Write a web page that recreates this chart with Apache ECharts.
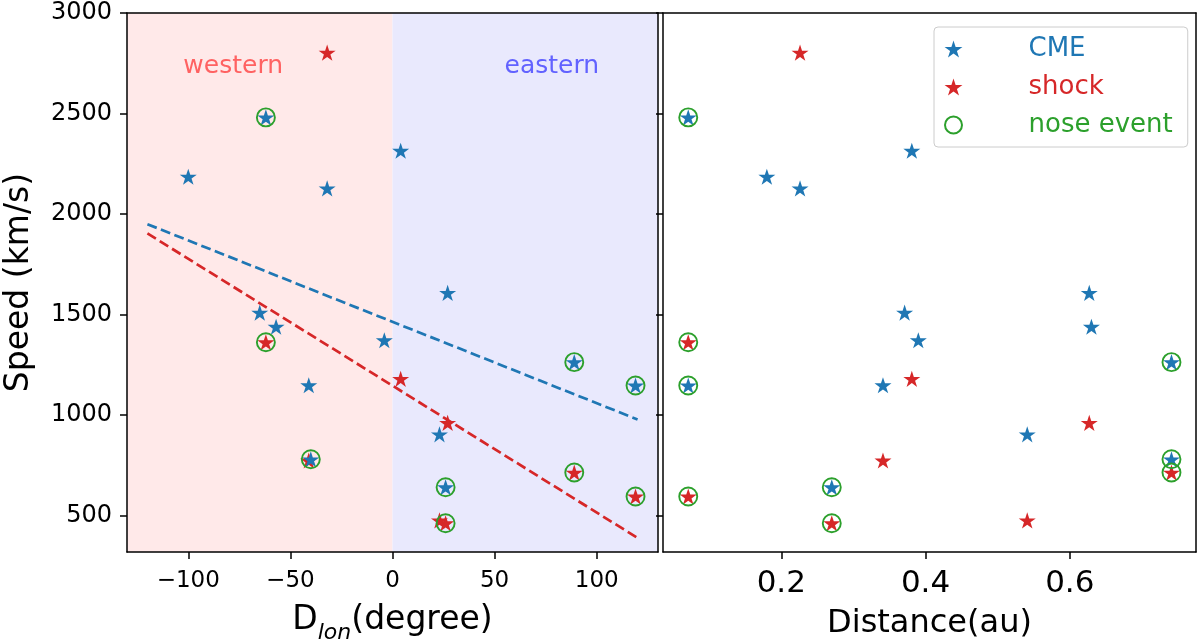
<!DOCTYPE html>
<html>
<head>
<meta charset="utf-8">
<script src="https://cdn.jsdelivr.net/npm/echarts@6/dist/echarts.min.js"></script>
<style>html,body{margin:0;padding:0;background:#fff}#c{width:1200px;height:643px}</style>
</head>
<body>
<div id="c"></div>
<script>
// ---- data ----
const cmeDlon  = [-100, -62, -32, 4, 27, -65, -57, -4, -41, -40, 23, 26, 89, 119];
const cmeSpeed = [2186, 2481, 2128, 2315, 1608, 1510, 1440, 1373, 1149, 781, 905, 642, 1264, 1148];
const cmeDist  = [0.180, 0.071, 0.226, 0.381, 0.627, 0.371, 0.630, 0.390, 0.341, 0.741, 0.541, 0.270, 0.741, 0.071];
const cmeNose  = [0, 1, 0, 0, 0, 0, 0, 0, 0, 1, 0, 1, 1, 1];

const shockDlon  = [-32, -62, -41, 4, 27, 89, 119, 26, 23];
const shockSpeed = [2803, 1363, 775, 1181, 962, 715, 596, 463, 477];
const shockDist  = [0.226, 0.071, 0.341, 0.381, 0.627, 0.741, 0.071, 0.270, 0.541];
const shockNose  = [0, 1, 0, 0, 0, 1, 1, 1, 0];

const fitX     = [-120, 120];
const fitCME   = [1950, 979];
const fitShock = [1904, 390];

const regionNames = ['western', 'eastern'];
const regionX     = [-78, 78];
const regionY     = [2736, 2736];
const regionSpans = [[-130, 0], [0, 130]];

const speedTicks = [500, 1000, 1500, 2000, 2500, 3000];
const dlonTicks  = [-100, -50, 0, 50, 100];
const distTicks  = [0.2, 0.4, 0.6];

// ---- styling ----
const BLUE = '#1f77b4', RED = '#d62728', GREEN = '#2ca02c';
const FONT = 'DejaVu Sans';
const starPath = (() => {
  const pts = [];
  for (let i = 0; i < 10; i++) {
    const r = i % 2 === 0 ? 1 : 0.381966;
    const a = -Math.PI / 2 + i * Math.PI / 5;
    pts.push((r * Math.cos(a)).toFixed(4) + ' ' + (r * Math.sin(a)).toFixed(4));
  }
  return 'path://M' + pts.join(' L') + ' Z';
})();

const zip = (a, b) => a.map((v, i) => [v, b[i]]);
const pick = (a, b, f) => a.map((v, i) => [v, b[i], f[i]]).filter(d => d[2]).map(d => [d[0], d[1]]);

const lineBlack = {show: true, onZero: false, lineStyle: {color: '#000', width: 1.5}};
const tickOut = (vals) => ({show: true, length: 7, inside: false, lineStyle: {color: '#000', width: 1.5}, customValues: vals});
const frameAxis = (gridIndex, position, min, max) => ({
  type: 'value', gridIndex, position, z: 10, min, max,
  axisLine: lineBlack, axisTick: {show: false}, axisLabel: {show: false}, splitLine: {show: false}
});

const minus = v => String(v).replace('-', '\u2212');
const plain = v => String(v);

const starStyle = (c) => ({color: c, opacity: 1});
const noseStyle = {color: 'rgba(0,0,0,0)', borderColor: GREEN, borderWidth: 1.9, opacity: 1};

const option = {
  animation: false,
  backgroundColor: '#fff',
  textStyle: {fontFamily: FONT},
  grid: [
    {left: 127, top: 13, width: 531, height: 539, containLabel: false, outerBoundsMode: 'none'},
    {left: 663, top: 13, width: 533, height: 539, containLabel: false, outerBoundsMode: 'none'}
  ],
  xAxis: [
    {
      type: 'value', gridIndex: 0, min: -130, max: 130, z: 10,
      axisLine: lineBlack, axisTick: tickOut(dlonTicks),
      axisLabel: {customValues: dlonTicks, formatter: minus, fontSize: 23, color: '#000', fontFamily: FONT, margin: 18},
      splitLine: {show: false},
      name: '{a|D}{s|lon}{a|(degree)}', nameLocation: 'middle', nameGap: 48,
      nameTextStyle: {
        fontFamily: FONT, color: '#000', lineHeight: 40,
        rich: {
          a: {fontSize: 33, fontFamily: FONT, color: '#000', verticalAlign: 'middle', lineHeight: 40},
          s: {fontSize: 22, fontFamily: FONT, fontStyle: 'italic', color: '#000', verticalAlign: 'bottom', lineHeight: 40, padding: [0, 0, -4, 0]}
        }
      }
    },
    frameAxis(0, 'top', -130, 130),
    {
      type: 'value', gridIndex: 1, min: 0.036, max: 0.775, z: 10,
      axisLine: lineBlack, axisTick: tickOut(distTicks),
      axisLabel: {customValues: distTicks, formatter: plain, fontSize: 31, color: '#000', fontFamily: FONT, margin: 16},
      splitLine: {show: false},
      name: 'Distance(au)', nameLocation: 'middle', nameGap: 52,
      nameTextStyle: {fontSize: 32, fontFamily: FONT, color: '#000', lineHeight: 40}
    },
    frameAxis(1, 'top', 0.036, 0.775)
  ],
  yAxis: [
    {
      type: 'value', gridIndex: 0, min: 320, max: 3000, z: 10,
      axisLine: lineBlack, axisTick: tickOut(speedTicks),
      axisLabel: {customValues: speedTicks, formatter: plain, fontSize: 24, color: '#000', fontFamily: FONT, margin: 15},
      splitLine: {show: false},
      name: 'Speed (km/s)', nameLocation: 'middle', nameGap: 88, nameRotate: 90,
      nameTextStyle: {fontSize: 33, fontFamily: FONT, color: '#000', lineHeight: 40}
    },
    frameAxis(0, 'right', 320, 3000),
    {
      type: 'value', gridIndex: 1, min: 320, max: 3000, z: 10,
      axisLine: lineBlack, axisTick: tickOut(speedTicks),
      axisLabel: {show: false}, splitLine: {show: false}
    },
    frameAxis(1, 'right', 320, 3000)
  ],
  legend: {
    orient: 'vertical', left: 934, top: 27,
    padding: [8, 15, 8, 10], itemGap: 10, itemWidth: 48, itemHeight: 17,
    backgroundColor: 'rgba(255,255,255,0.8)', borderColor: '#cccccc', borderWidth: 1, borderRadius: 4,
    textStyle: {fontSize: 26, fontFamily: FONT, lineHeight: 28, padding: [0, 0, 0, 46]},
    selectedMode: false,
    data: [
      {name: 'CME', icon: starPath, itemStyle: {color: BLUE, opacity: 1}, textStyle: {color: BLUE}},
      {name: 'shock', icon: starPath, itemStyle: {color: RED, opacity: 1}, textStyle: {color: RED}},
      {name: 'nose event', icon: 'circle', itemStyle: {color: 'rgba(0,0,0,0)', borderColor: GREEN, borderWidth: 2, opacity: 1}, textStyle: {color: GREEN}}
    ]
  },
  series: [
    {
      name: 'bg', type: 'scatter', xAxisIndex: 0, yAxisIndex: 0, data: [], z: 0, silent: true,
      markArea: {
        silent: true,
        data: [
          [{xAxis: regionSpans[0][0], yAxis: 320, itemStyle: {color: '#ffe9e9', opacity: 1}}, {xAxis: regionSpans[0][1], yAxis: 3000}],
          [{xAxis: regionSpans[1][0], yAxis: 320, itemStyle: {color: '#e9e9fd', opacity: 1}}, {xAxis: regionSpans[1][1], yAxis: 3000}]
        ]
      }
    },
    {
      name: 'regions', type: 'scatter', xAxisIndex: 0, yAxisIndex: 0, z: 1, silent: true,
      symbolSize: 1, itemStyle: {color: 'rgba(0,0,0,0)', opacity: 1},
      data: regionNames.map((n, i) => ({
        value: [regionX[i], regionY[i]], name: n,
        label: {show: true, position: 'inside', formatter: n, fontSize: 25, fontFamily: FONT, opacity: 1, color: i === 0 ? '#ff6262' : '#6262ff'}
      }))
    },
    {
      name: 'fitCME', type: 'line', xAxisIndex: 0, yAxisIndex: 0, z: 2, silent: true,
      data: zip(fitX, fitCME), showSymbol: false, symbol: 'none',
      lineStyle: {color: BLUE, width: 2.7, type: [10, 4.5]}
    },
    {
      name: 'fitShock', type: 'line', xAxisIndex: 0, yAxisIndex: 0, z: 2, silent: true,
      data: zip(fitX, fitShock), showSymbol: false, symbol: 'none',
      lineStyle: {color: RED, width: 2.7, type: [10, 4.5]}
    },
    {
      name: 'shock', type: 'scatter', xAxisIndex: 0, yAxisIndex: 0, z: 3,
      symbol: starPath, symbolSize: 17, symbolKeepAspect: true, itemStyle: starStyle(RED),
      data: zip(shockDlon, shockSpeed)
    },
    {
      name: 'CME', type: 'scatter', xAxisIndex: 0, yAxisIndex: 0, z: 3,
      symbol: starPath, symbolSize: 17, symbolKeepAspect: true, itemStyle: starStyle(BLUE),
      data: zip(cmeDlon, cmeSpeed)
    },
    {
      name: 'nose event', type: 'scatter', xAxisIndex: 0, yAxisIndex: 0, z: 4,
      symbol: 'circle', symbolSize: 18, itemStyle: noseStyle,
      data: pick(cmeDlon, cmeSpeed, cmeNose).concat(pick(shockDlon, shockSpeed, shockNose))
    },
    {
      name: 'shock', type: 'scatter', xAxisIndex: 2, yAxisIndex: 2, z: 3,
      symbol: starPath, symbolSize: 17, symbolKeepAspect: true, itemStyle: starStyle(RED),
      data: zip(shockDist, shockSpeed)
    },
    {
      name: 'CME', type: 'scatter', xAxisIndex: 2, yAxisIndex: 2, z: 3,
      symbol: starPath, symbolSize: 17, symbolKeepAspect: true, itemStyle: starStyle(BLUE),
      data: zip(cmeDist, cmeSpeed)
    },
    {
      name: 'nose event', type: 'scatter', xAxisIndex: 2, yAxisIndex: 2, z: 4,
      symbol: 'circle', symbolSize: 18, itemStyle: noseStyle,
      data: pick(cmeDist, cmeSpeed, cmeNose).concat(pick(shockDist, shockSpeed, shockNose))
    }
  ]
};

const chart = echarts.init(document.getElementById('c'), null, {renderer: 'canvas'});
chart.setOption(option);
</script>
</body>
</html>
